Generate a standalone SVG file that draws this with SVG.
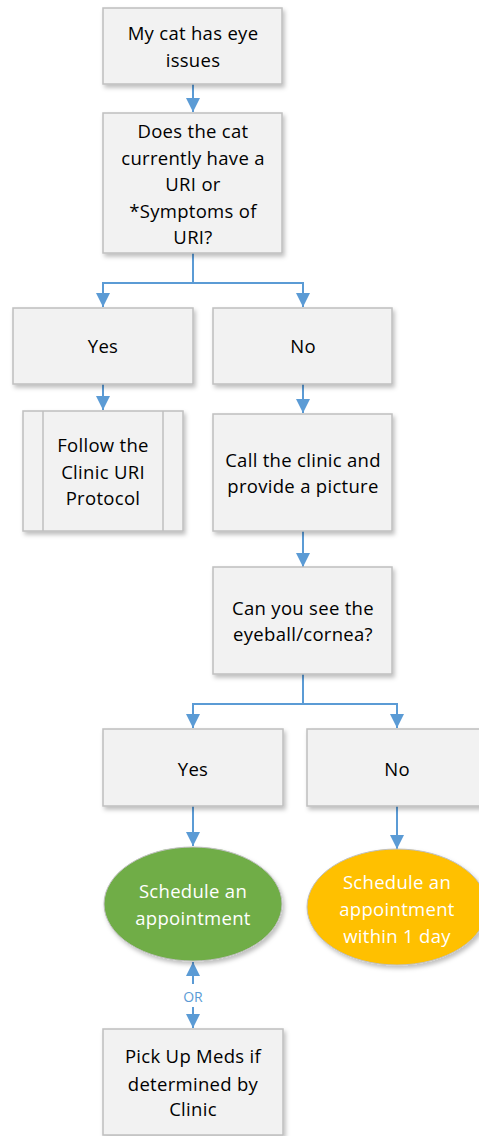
<svg xmlns="http://www.w3.org/2000/svg" width="479" height="1136" viewBox="0 0 479 1136">
<style>
.box{fill:#f2f2f2;stroke:#bfbfbf;stroke-width:1.5;filter:url(#sh)}
.t{font-family:"Open Sans","Liberation Sans",sans-serif;font-size:18.5px;letter-spacing:0.3px;fill:#000;text-anchor:middle}
.w{fill:#fff}
.c{fill:none;stroke:#5b9bd5;stroke-width:2}
.or{font-family:"Open Sans","Liberation Sans",sans-serif;font-size:14px;fill:#5b9bd5;text-anchor:middle}
</style>
<defs>
<filter id="sh" x="-10%" y="-10%" width="130%" height="140%">
<feDropShadow dx="2" dy="3" stdDeviation="2" flood-color="#000" flood-opacity="0.25"/>
</filter>
<marker id="ah" markerUnits="userSpaceOnUse" markerWidth="16" markerHeight="16" refX="14" refY="7" orient="auto">
<path d="M0,0 L14,7 L0,14 Z" fill="#5b9bd5"/>
</marker>
</defs>
<rect width="479" height="1136" fill="#fff"/>
<g id="connectors">
<path class="c" d="M193,84 V112" marker-end="url(#ah)"/>
<path class="c" d="M193,253 V283 H103 V307" marker-end="url(#ah)"/>
<path class="c" d="M193,283 H303 V307" marker-end="url(#ah)"/>
<path class="c" d="M103,384 V410" marker-end="url(#ah)"/>
<path class="c" d="M303,384 V413" marker-end="url(#ah)"/>
<path class="c" d="M303,531 V567" marker-end="url(#ah)"/>
<path class="c" d="M303,674 V704 H193 V728" marker-end="url(#ah)"/>
<path class="c" d="M303,704 H397 V728" marker-end="url(#ah)"/>
<path class="c" d="M193,806 V846" marker-end="url(#ah)"/>
<path class="c" d="M397,806 V849" marker-end="url(#ah)"/>
<path class="c" d="M193,984 V962" marker-end="url(#ah)"/>
<path class="c" d="M193,1007 V1028" marker-end="url(#ah)"/>
<text class="or" x="193" y="1002">OR</text>
</g>
<g id="n1">
<rect class="box" x="103" y="8" width="179" height="76"/>
<text class="t" x="193" y="40">My cat has eye</text>
<text class="t" x="193" y="67">issues</text>
</g>
<g id="n2">
<rect class="box" x="103" y="113" width="179" height="140"/>
<text class="t" x="193" y="138">Does the cat</text>
<text class="t" x="193" y="165">currently have a</text>
<text class="t" x="193" y="191">URI or</text>
<text class="t" x="193" y="218">*Symptoms of</text>
<text class="t" x="193" y="244">URI?</text>
</g>
<g id="n3">
<rect class="box" x="13" y="308" width="180" height="76"/>
<text class="t" x="103" y="353">Yes</text>
</g>
<g id="n4">
<rect class="box" x="213" y="308" width="179" height="76"/>
<text class="t" x="303" y="353">No</text>
</g>
<g id="n5">
<rect class="box" x="23" y="411" width="160" height="120"/>
<line x1="43" y1="411" x2="43" y2="531" stroke="#bfbfbf" stroke-width="1.5"/>
<line x1="163" y1="411" x2="163" y2="531" stroke="#bfbfbf" stroke-width="1.5"/>
<text class="t" x="103" y="452">Follow the</text>
<text class="t" x="103" y="479">Clinic URI</text>
<text class="t" x="103" y="505">Protocol</text>
</g>
<g id="n6">
<rect class="box" x="213" y="414" width="179" height="117"/>
<text class="t" x="303" y="467">Call the clinic and</text>
<text class="t" x="303" y="493">provide a picture</text>
</g>
<g id="n7">
<rect class="box" x="213" y="567" width="179" height="107"/>
<text class="t" x="303" y="615">Can you see the</text>
<text class="t" x="303" y="641">eyeball/cornea?</text>
</g>
<g id="n8">
<rect class="box" x="103" y="729" width="180" height="77"/>
<text class="t" x="193" y="776">Yes</text>
</g>
<g id="n9">
<rect class="box" x="307" y="729" width="180" height="77"/>
<text class="t" x="397" y="776">No</text>
</g>
<g id="n10">
<ellipse cx="193" cy="904" rx="89" ry="57" fill="#70ad47" stroke="#bfbfbf" stroke-width="1" filter="url(#sh)"/>
<text class="t w" x="193" y="898">Schedule an</text>
<text class="t w" x="193" y="925">appointment</text>
</g>
<g id="n11">
<ellipse cx="397" cy="907" rx="90" ry="58" fill="#ffc000" stroke="#bfbfbf" stroke-width="1" filter="url(#sh)"/>
<text class="t w" x="397" y="889">Schedule an</text>
<text class="t w" x="397" y="916">appointment</text>
<text class="t w" x="397" y="943">within 1 day</text>
</g>
<g id="n12">
<rect class="box" x="103" y="1029" width="180" height="106"/>
<text class="t" x="193" y="1063">Pick Up Meds if</text>
<text class="t" x="193" y="1091">determined by</text>
<text class="t" x="193" y="1116">Clinic</text>
</g>
</svg>
